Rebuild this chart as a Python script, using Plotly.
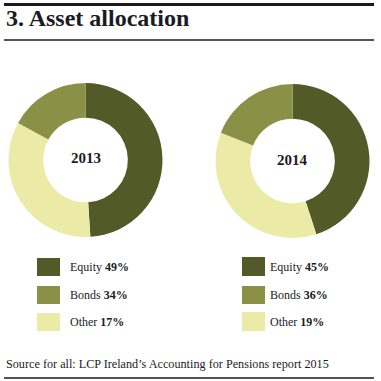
import plotly.graph_objects as go

W = H = 381
years = ["2013", "2014"]
categories = ["Equity", "Bonds", "Other"]
values_2013 = [49, 34, 17]
values_2014 = [45, 36, 19]
values = [values_2013, values_2014]

dark = "#525a28"
medium = "#8a9147"
light = "#ebeaa6"
legend_colors = [dark, medium, light]
slice_colors = [dark, light, medium]
text_color = "#1b1b24"
font_family = "Liberation Serif"


def px(x):
    return x / W


def py(y):
    return 1 - y / H


fig = go.Figure()

pie_domains = [
    dict(x=[px(8), px(163)], y=[py(237), py(83)]),
    dict(x=[px(215), px(370)], y=[py(238), py(84)]),
]
centers = [(86, 158), (292, 160)]

for yr, vals, dom in zip(years, values, pie_domains):
    fig.add_trace(go.Pie(
        labels=categories, values=vals, domain=dom, hole=0.55,
        sort=False, direction="clockwise", rotation=0,
        marker=dict(colors=slice_colors, line=dict(width=0)),
        textinfo="none", showlegend=False, name=yr,
    ))

annotations = []
shapes = []

# Title
annotations.append(dict(x=px(4), y=py(18), xref="paper", yref="paper",
                        text="<b>3. Asset allocation</b>", showarrow=False,
                        xanchor="left", yanchor="middle",
                        font=dict(family=font_family, size=24, color=text_color)))
# lines
shapes.append(dict(type="line", xref="paper", yref="paper", x0=px(4), x1=px(374),
                   y0=py(4.5), y1=py(4.5), line=dict(color="#1a1a1a", width=3)))
shapes.append(dict(type="line", xref="paper", yref="paper", x0=px(4), x1=px(374),
                   y0=py(40), y1=py(40), line=dict(color="#1a1a1a", width=1.5)))
shapes.append(dict(type="line", xref="paper", yref="paper", x0=px(4), x1=px(374),
                   y0=py(378), y1=py(378), line=dict(color="#1a1a1a", width=1.5)))

# center labels
for yr, (cx, cy) in zip(years, centers):
    annotations.append(dict(x=px(cx), y=py(cy), xref="paper", yref="paper",
                            text="<b>" + yr + "</b>", showarrow=False,
                            xanchor="center", yanchor="middle",
                            font=dict(family=font_family, size=15, color=text_color)))

# custom legends
legend_x = [(37, 60, 68), (242, 265, 268)]
row_y = [[(258, 276), (286, 304), (313, 331)], [(257, 276), (286, 304), (312, 331)]]
for k, vals in enumerate(values):
    sx0, sx1, tx = legend_x[k]
    for i, cat in enumerate(categories):
        y0, y1 = row_y[k][i]
        shapes.append(dict(type="rect", xref="paper", yref="paper",
                           x0=px(sx0), x1=px(sx1), y0=py(y1), y1=py(y0),
                           fillcolor=legend_colors[i], line=dict(width=0)))
        annotations.append(dict(x=px(tx), y=py((y0 + y1) / 2), xref="paper", yref="paper",
                                text=f"{cat} <b>{vals[i]}%</b>", showarrow=False,
                                xanchor="left", yanchor="middle",
                                font=dict(family=font_family, size=12, color=text_color)))

# source
annotations.append(dict(x=px(4), y=py(364), xref="paper", yref="paper",
                        text="Source for all: LCP Ireland\u2019s Accounting for Pensions report 2015",
                        showarrow=False, xanchor="left", yanchor="middle",
                        font=dict(family=font_family, size=12.2, color=text_color)))

fig.update_layout(width=W, height=H, margin=dict(l=0, r=0, t=0, b=0),
                  paper_bgcolor="white", plot_bgcolor="white",
                  annotations=annotations, shapes=shapes, showlegend=False)

fig.write_html("out.html", config={"displayModeBar": False},
               post_script="document.body.style.margin='0';document.body.style.overflow='hidden';")
